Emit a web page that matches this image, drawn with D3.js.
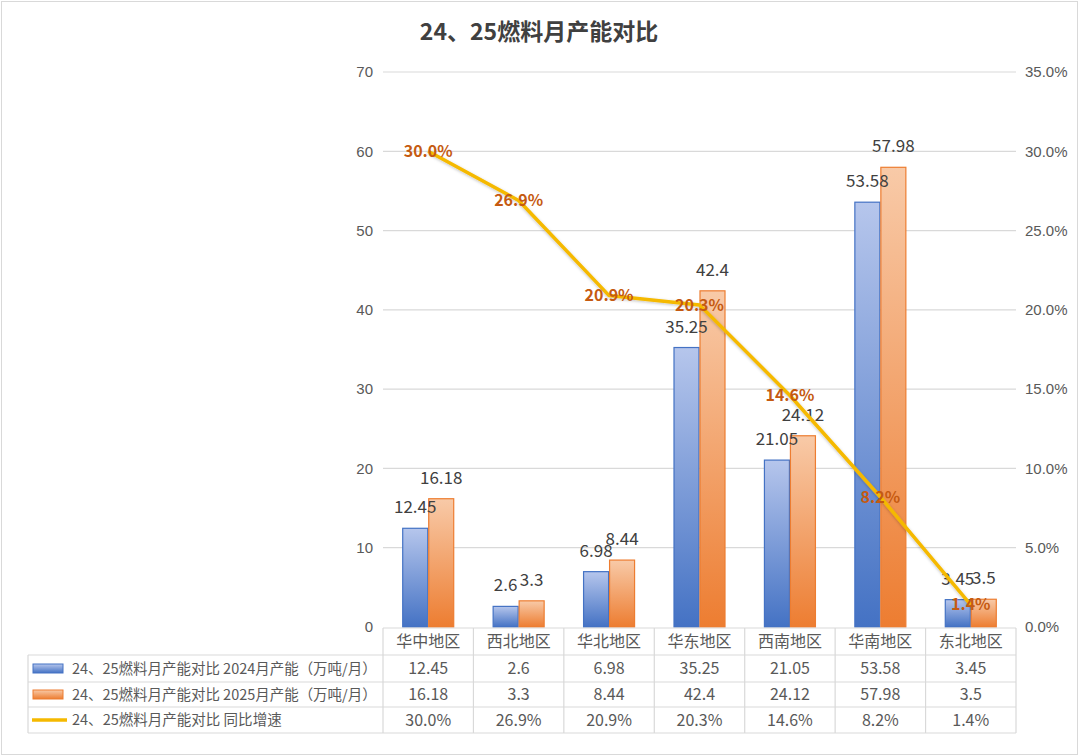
<!DOCTYPE html>
<html>
<head>
<meta charset="utf-8">
<script src="https://cdn.jsdelivr.net/npm/d3@7"></script>
<style>
  body { margin: 0; background: #fff; }
  svg { display: block; font-family: "Microsoft YaHei", "Noto Sans CJK SC", sans-serif; }
</style>
</head>
<body>
<svg id="chart" width="1080" height="756"></svg>
<script>
// 数据
var categories = ['华中地区', '西北地区', '华北地区', '华东地区', '西南地区', '华南地区', '东北地区']
var cap2024 = [12.45, 2.6, 6.98, 35.25, 21.05, 53.58, 3.45]
var cap2025 = [16.18, 3.3, 8.44, 42.4, 24.12, 57.98, 3.5]
var growth = [30.0, 26.9, 20.9, 20.3, 14.6, 8.2, 1.4]
var leftTicks = [0, 10, 20, 30, 40, 50, 60, 70]
var rightTicks = [0, 5, 10, 15, 20, 25, 30, 35]
var seriesNames = [
  '24、25燃料月产能对比 2024月产能（万吨/月）',
  '24、25燃料月产能对比 2025月产能（万吨/月）',
  '24、25燃料月产能对比 同比增速'
]

var svg = d3.select('#chart')
var plotLeft = 383, plotRight = 1016, plotTop = 72, plotBottom = 627
var textColor = '#595959'
var gridColor = '#d9d9d9'

var x = d3.scaleBand().domain(categories).range([plotLeft, plotRight])
var y = d3.scaleLinear().domain([0, 70]).range([plotBottom, plotTop])
var y2 = d3.scaleLinear().domain([0, 35]).range([plotBottom, plotTop])
var barW = 26
var x1 = d3.scaleBand().domain(['a', 'b']).range([x.bandwidth() / 2 - barW, x.bandwidth() / 2 + barW])
var pct = function (v) { return d3.format('.1f')(v) + '%' }

// 渐变
var defs = svg.append('defs')
function grad(id, c1, c2) {
  var g = defs.append('linearGradient').attr('id', id)
    .attr('x1', 0).attr('y1', 0).attr('x2', 0).attr('y2', 1)
  g.append('stop').attr('offset', '0%').attr('stop-color', c1)
  g.append('stop').attr('offset', '100%').attr('stop-color', c2)
}
grad('gBlue', '#b6c6ec', '#4472c4')
grad('gOrange', '#f8caa8', '#ed7d31')
var f = defs.append('filter').attr('id', 'shadow').attr('x', '-10%').attr('y', '-10%').attr('width', '120%').attr('height', '120%')
f.append('feDropShadow').attr('dx', 0).attr('dy', 1).attr('stdDeviation', 1.5)
  .attr('flood-color', '#000').attr('flood-opacity', 0.25)

// 外框
svg.append('rect').attr('x', 1.5).attr('y', 1.5).attr('width', 1076).attr('height', 753)
  .attr('fill', '#fff').attr('stroke', gridColor)

// 标题
svg.append('text').attr('x', 539).attr('y', 40).attr('text-anchor', 'middle')
  .attr('font-size', 23).attr('font-weight', 'bold').attr('fill', '#404040')
  .text('24、25燃料月产能对比')

// 网格线
svg.append('g').selectAll('line').data(leftTicks.slice(1)).join('line')
  .attr('x1', plotLeft).attr('x2', plotRight)
  .attr('y1', function (d) { return y(d) }).attr('y2', function (d) { return y(d) })
  .attr('stroke', gridColor).attr('stroke-width', 1.2)

// 左轴
var axL = svg.append('g').attr('transform', 'translate(' + (plotLeft - 10) + ',0)')
  .call(d3.axisLeft(y).tickValues(leftTicks).tickSize(0).tickPadding(0))
axL.select('.domain').remove()
axL.selectAll('text').attr('font-size', 15).attr('fill', textColor).attr('font-family', null)

// 右轴
var axR = svg.append('g').attr('transform', 'translate(' + (plotRight + 9) + ',0)')
  .call(d3.axisRight(y2).tickValues(rightTicks).tickSize(0).tickPadding(0).tickFormat(pct))
axR.select('.domain').remove()
axR.selectAll('text').attr('font-size', 15).attr('fill', textColor).attr('font-family', null)

// 柱子
var bars = [
  { key: 'a', values: cap2024, fill: 'url(#gBlue)', stroke: '#4472c4' },
  { key: 'b', values: cap2025, fill: 'url(#gOrange)', stroke: '#ed7d31' }
]
var barG = svg.append('g')
var barLabelG = svg.append('g')
bars.forEach(function (s) {
  barG.append('g').selectAll('rect').data(s.values).join('rect')
    .attr('x', function (d, i) { return x(categories[i]) + x1(s.key) + 0.5 })
    .attr('y', function (d) { return y(d) })
    .attr('width', barW - 1)
    .attr('height', function (d) { return plotBottom - y(d) })
    .attr('fill', s.fill).attr('stroke', s.stroke).attr('stroke-width', 1.2)
  // 数据标签放在所有柱子之上
  barLabelG.append('g').selectAll('text').data(s.values).join('text')
    .attr('x', function (d, i) { return x(categories[i]) + x1(s.key) + barW / 2 })
    .attr('y', function (d) { return y(d) - 15 })
    .attr('text-anchor', 'middle').attr('font-size', 17).attr('fill', '#404040')
    .text(function (d) { return d })
})

// 折线
var line = d3.line()
  .x(function (d, i) { return x(categories[i]) + x.bandwidth() / 2 })
  .y(function (d) { return y2(d) })
svg.append('path').datum(growth).attr('d', line)
  .attr('fill', 'none').attr('stroke', '#f5b900').attr('stroke-width', 3.5)
  .attr('stroke-linejoin', 'round').attr('filter', 'url(#shadow)')
svg.append('g').selectAll('text').data(growth).join('text')
  .attr('x', function (d, i) { return x(categories[i]) + x.bandwidth() / 2 })
  .attr('y', function (d) { return y2(d) })
  .attr('dy', '0.35em').attr('text-anchor', 'middle')
  .attr('font-size', 16).attr('font-weight', 'bold').attr('fill', '#c55a11')
  .text(pct)

// 数据表
var tbl = svg.append('g').attr('stroke', gridColor).attr('stroke-width', 1.2)
var rowY = [628, 655, 682, 707, 733]
var tLeft = 28
tbl.append('line').attr('x1', plotLeft).attr('x2', plotRight).attr('y1', rowY[0]).attr('y2', rowY[0])
rowY.slice(1).forEach(function (ry) {
  tbl.append('line').attr('x1', tLeft).attr('x2', plotRight).attr('y1', ry).attr('y2', ry)
})
tbl.append('line').attr('x1', tLeft).attr('x2', tLeft).attr('y1', rowY[1]).attr('y2', rowY[4])
categories.forEach(function (c) {
  tbl.append('line').attr('x1', x(c)).attr('x2', x(c)).attr('y1', rowY[0]).attr('y2', rowY[4])
})
tbl.append('line').attr('x1', plotRight).attr('x2', plotRight).attr('y1', rowY[0]).attr('y2', rowY[4])

var rows = [
  categories,
  cap2024,
  cap2025,
  growth.map(pct)
]
rows.forEach(function (r, ri) {
  var cy = (rowY[ri] + rowY[ri + 1]) / 2
  svg.append('g').selectAll('text').data(r).join('text')
    .attr('x', function (d, i) { return x(categories[i]) + x.bandwidth() / 2 })
    .attr('y', cy).attr('dy', '0.35em').attr('text-anchor', 'middle')
    .attr('font-size', 16).attr('fill', textColor)
    .text(function (d) { return d })
})

// 图例
seriesNames.forEach(function (name, i) {
  var cy = (rowY[i + 1] + rowY[i + 2]) / 2
  if (i < 2) {
    svg.append('rect').attr('x', 33).attr('y', cy - 4.5).attr('width', 30).attr('height', 9)
      .attr('fill', bars[i].fill).attr('stroke', bars[i].stroke)
  } else {
    svg.append('line').attr('x1', 32).attr('x2', 67).attr('y1', cy).attr('y2', cy)
      .attr('stroke', '#f5b900').attr('stroke-width', 3.5)
  }
  var t = svg.append('text').attr('x', 72).attr('y', cy).attr('dy', '0.35em')
    .attr('font-size', 16).attr('fill', textColor).text(name)
  // 宽度过大时缩小字号
  var w = t.node().getComputedTextLength()
  var maxW = i < 2 ? 305 : 210
  if (w > maxW) t.attr('font-size', 16 * maxW / w)
})
</script>
</body>
</html>
